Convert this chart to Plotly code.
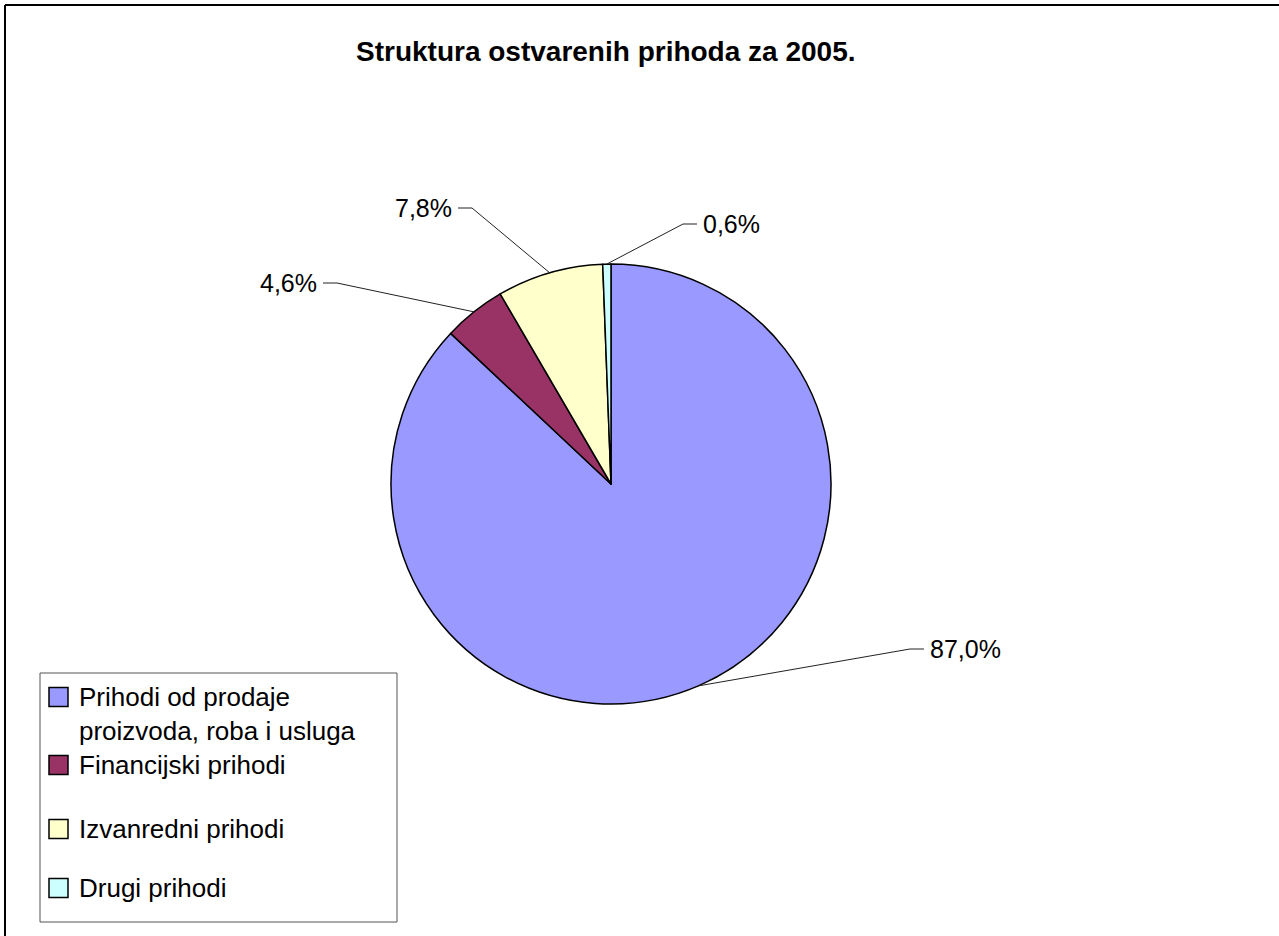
import math
import plotly.graph_objects as go

# ---- data ----
categories = [
    "Prihodi od prodaje proizvoda, roba i usluga",
    "Financijski prihodi",
    "Izvanredni prihodi",
    "Drugi prihodi",
]
values = [87.0, 4.6, 7.8, 0.6]
colors = ["#9999FF", "#993366", "#FFFFCC", "#CCFFFF"]
title_text = "Struktura ostvarenih prihoda za 2005."

# ---- layout constants (pixels) ----
W, H = 1279, 936
CX, CY, R = 611, 484, 220
FONT = "Liberation Sans, Arial, sans-serif"

def px(x):
    return x / W

def py(y):
    return 1 - y / H

# label elbow positions and sides (layout only)
label_elbows = [(910, 649, "right"), (337, 283, "left"), (472, 208, "left"), (683, 224, "right")]

fig = go.Figure()
fig.add_trace(go.Pie(
    labels=categories,
    values=values,
    marker=dict(colors=colors, line=dict(color="#000000", width=1.5)),
    sort=False,
    direction="clockwise",
    rotation=0,
    textinfo="none",
    textposition="none",
    hoverinfo="label+percent",
    showlegend=False,
    domain=dict(x=[px(CX - R), px(CX + R)], y=[py(CY + R), py(CY - R)]),
))

shapes = []
annotations = []

# leader lines + value labels computed from the slice angles
total = sum(values)
cum = 0.0
for v, (ex, ey, side) in zip(values, label_elbows):
    mid = (cum + v / 2) / total
    cum += v
    theta = math.radians(90 - 360 * mid)
    sx = CX + R * math.cos(theta)
    sy = CY - R * math.sin(theta)
    hx = ex + 14 if side == "right" else ex - 14
    shapes.append(dict(
        type="path", xref="paper", yref="paper",
        path=f"M {px(sx)} {py(sy)} L {px(ex)} {py(ey)} L {px(hx)} {py(ey)}",
        line=dict(color="#222222", width=1),
    ))
    lbl = f"{v / total * 100:.1f}%".replace(".", ",")
    annotations.append(dict(
        x=px(hx + (4 if side == "right" else -4)), y=py(ey),
        xref="paper", yref="paper", showarrow=False,
        xanchor="left" if side == "right" else "right", yanchor="middle",
        text=lbl, font=dict(family=FONT, size=25, color="#000000"),
    ))

# title
annotations.append(dict(
    x=px(606), y=py(51), xref="paper", yref="paper", showarrow=False,
    xanchor="center", yanchor="middle",
    text=f"<b>{title_text}</b>", font=dict(family=FONT, size=28, color="#000000"),
))

# manual legend
LX0, LY0, LX1, LY1 = 40, 673, 397, 922
shapes.append(dict(type="rect", xref="paper", yref="paper",
                   x0=px(LX0), y0=py(LY1), x1=px(LX1), y1=py(LY0),
                   line=dict(color="#555555", width=1), fillcolor="rgba(0,0,0,0)"))
legend_font = 26
line_h = 34
entry_y = [697, 765, 829, 888]
for name, col, yc in zip(categories, colors, entry_y):
    shapes.append(dict(type="rect", xref="paper", yref="paper",
                       x0=px(49), x1=px(68), y0=py(yc + 9.5), y1=py(yc - 9.5),
                       fillcolor=col, line=dict(color="#000000", width=1.5)))
    words = name.split(" ")
    if len(name) > 25:
        lines = [" ".join(words[:3]), " ".join(words[3:])]
    else:
        lines = [name]
    for k, ln in enumerate(lines):
        annotations.append(dict(
            x=px(77), y=py(yc + k * line_h), xref="paper", yref="paper", showarrow=False,
            xanchor="left", yanchor="middle", align="left",
            text=ln, font=dict(family=FONT, size=legend_font, color="#000000"),
        ))

# outer frame (only top and left visible)
shapes.append(dict(type="line", xref="paper", yref="paper",
                   x0=px(5), x1=1.0, y0=py(5), y1=py(5), line=dict(color="#000000", width=2)))
shapes.append(dict(type="line", xref="paper", yref="paper",
                   x0=px(5), x1=px(5), y0=py(5), y1=0.0, line=dict(color="#000000", width=2)))

fig.update_layout(
    width=W, height=H,
    margin=dict(l=0, r=0, t=0, b=0),
    paper_bgcolor="#FFFFFF",
    plot_bgcolor="#FFFFFF",
    shapes=shapes,
    annotations=annotations,
    showlegend=False,
)

fig.write_html("out.html", config={"displayModeBar": False},
               post_script="document.body.style.margin='0';")
